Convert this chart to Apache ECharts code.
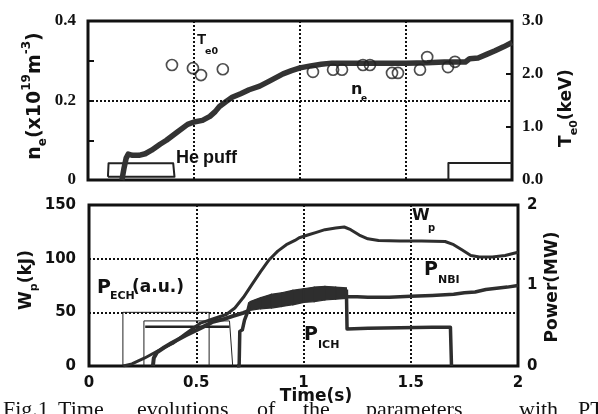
<!DOCTYPE html>
<html><head><meta charset="utf-8">
<script src="https://cdn.jsdelivr.net/npm/echarts@6/dist/echarts.min.js"></script>
<style>html,body{margin:0;padding:0;background:#fff}#c{width:598px;height:414px}</style>
</head><body><div id="c"></div>
<script>
// ---------- data ----------
// top panel: electron density n_e (x10^19 m^-3) vs time (s)
const neTrace = [[0.16,0],[0.17,0.03],[0.18,0.055],[0.19,0.065],[0.21,0.062],[0.24,0.062],[0.27,0.066],[0.30,0.075],[0.34,0.09],[0.37,0.10],[0.42,0.12],[0.47,0.14],[0.50,0.146],[0.54,0.15],[0.575,0.16],[0.60,0.172],[0.62,0.185],[0.65,0.197],[0.68,0.208],[0.72,0.217],[0.76,0.227],[0.81,0.236],[0.86,0.25],[0.92,0.267],[0.96,0.275],[1.00,0.282],[1.05,0.287],[1.10,0.291],[1.15,0.294],[1.30,0.294],[1.50,0.294],[1.60,0.295],[1.68,0.297],[1.78,0.297],[1.80,0.305],[1.84,0.307],[1.88,0.316],[1.92,0.325],[1.96,0.335],[2.00,0.346]];
// He puff waveforms (drawn in n_e units)
const hePuff1 = [[0.094,0.008],[0.097,0.042],[0.402,0.042],[0.408,0.008],[0.094,0.008]];
const hePuff2 = [[1.70,0],[1.70,0.043],[2.00,0.043]];
// central electron temperature T_e0 (keV)
const te0Points = [[0.396,2.17],[0.495,2.11],[0.533,1.98],[0.636,2.09],[1.061,2.04],[1.156,2.08],[1.198,2.08],[1.297,2.17],[1.33,2.17],[1.434,2.02],[1.462,2.02],[1.566,2.08],[1.60,2.32],[1.698,2.13],[1.731,2.23]];

// bottom panel: stored energy W_p (kJ)
const wpTrace = [[0.16,0],[0.20,2],[0.26,7.5],[0.32,14],[0.39,21],[0.45,30],[0.52,40],[0.58,44],[0.64,48],[0.68,54],[0.72,64],[0.76,76],[0.80,88],[0.84,99],[0.88,107],[0.92,113],[0.96,117],[0.98,119.5],[1.02,122],[1.06,124.5],[1.10,127],[1.15,128.5],[1.19,129.5],[1.22,127],[1.26,122],[1.30,118.5],[1.35,117],[1.45,116.5],[1.55,116.5],[1.66,116],[1.70,113],[1.74,108],[1.78,103],[1.82,101.5],[1.88,101.5],[1.94,103],[2.00,106]];
// ECH power waveforms (a.u., drawn in kJ units)
const echBox1 = [[0.158,0],[0.158,50],[0.56,50],[0.56,0]];
const echBox2 = [[0.256,0],[0.256,42],[0.655,42],[0.67,0]];
const echLevel = [[0.262,36.5],[0.655,36.5]];
// NBI power (MW)
const nbiRise = [[0.298,0],[0.302,0.10],[0.317,0.17],[0.35,0.23],[0.387,0.29],[0.45,0.38],[0.527,0.48],[0.578,0.55],[0.625,0.58],[0.67,0.62],[0.72,0.66],[0.75,0.69]];
const bandTime = [0.75,0.80,0.85,0.90,0.95,1.00,1.05,1.10,1.15,1.20];
const bandLow  = [0.69,0.71,0.72,0.74,0.76,0.79,0.80,0.82,0.83,0.84];
const bandHigh = [0.80,0.85,0.89,0.91,0.94,0.96,0.98,0.99,0.98,0.97];
const nbiLate = [[1.20,0.86],[1.25,0.86],[1.30,0.855],[1.40,0.855],[1.50,0.865],[1.60,0.875],[1.70,0.89],[1.75,0.91],[1.80,0.92],[1.85,0.95],[1.90,0.965],[1.95,0.98],[2.00,1.00]];
// ICH power (MW)
const ichRise = [[0.69,0],[0.70,0],[0.703,0.43],[0.715,0.45],[0.725,0.57],[0.738,0.66],[0.75,0.79]];
const ichFlat = [[1.20,0.95],[1.203,0.46],[1.30,0.47],[1.45,0.475],[1.60,0.48],[1.685,0.48],[1.69,0]];

// axis ticks
const timeTicks = [0, 0.5, 1, 1.5, 2];
const neTicks = [0, 0.2, 0.4];
const neGrid = [0.2];
const teTicks = [0, 1, 2, 3];
const wpTicks = [0, 50, 100, 150];
const powTicks = [0, 1, 2];

// ---------- chart ----------
const INK = '#222';
const LINE = '#2e2e2e';
const dotted = {color: '#111', width: 2, type: [2, 2]};
const serifB = {fontFamily: 'Liberation Serif', fontWeight: 'bold', fontSize: 17, color: '#111'};
const sansB = {fontFamily: 'DejaVu Sans', fontWeight: 'bold', fontSize: 15, color: '#111'};

function line(data, xi, yi, width, color, z) {
  return {type: 'line', data: data, xAxisIndex: xi, yAxisIndex: yi, showSymbol: false, symbol: 'none',
    lineStyle: {width: width, color: color || LINE, join: 'round'}, z: z || 3, silent: true, animation: false};
}

const neSeries = line(neTrace, 0, 0, 5.5, '#333');
neSeries.markLine = {silent: true, symbol: 'none', label: {show: false}, animation: false,
  lineStyle: dotted, data: neGrid.map(v => ({yAxis: v}))};

const bandSeries = {
  type: 'custom', xAxisIndex: 1, yAxisIndex: 3, silent: true, animation: false, z: 3,
  data: bandTime.map((t, i) => [t, bandLow[i], bandHigh[i]]),
  encode: {x: 0, y: [1, 2]},
  renderItem: function (params, api) {
    const i = params.dataIndex;
    if (i >= bandTime.length - 1) return null;
    const pts = [
      api.coord([bandTime[i], bandLow[i]]),
      api.coord([bandTime[i + 1], bandLow[i + 1]]),
      api.coord([bandTime[i + 1], bandHigh[i + 1]]),
      api.coord([bandTime[i], bandHigh[i]])
    ];
    return {type: 'polygon', shape: {points: pts},
      style: {fill: LINE, stroke: LINE, lineWidth: 1.2}};
  }
};

const series = [
  line(hePuff1, 0, 0, 2, INK),
  line(hePuff2, 0, 0, 2, INK),
  neSeries,
  {type: 'scatter', data: te0Points, xAxisIndex: 0, yAxisIndex: 1, symbol: 'circle', symbolSize: 11,
    itemStyle: {color: 'rgba(0,0,0,0)', borderColor: '#222', borderWidth: 1.7}, z: 5, silent: true, animation: false},

  line(echBox1, 1, 2, 1, INK),
  line(echBox2, 1, 2, 1, INK),
  line(echLevel, 1, 2, 2.5, INK),
  line(wpTrace, 1, 2, 3, LINE),
  line(nbiRise, 1, 3, 4, LINE),
  bandSeries,
  line(nbiLate, 1, 3, 3.5, LINE),
  line(ichRise, 1, 3, 3.5, LINE),
  line(ichFlat, 1, 3, 3.5, LINE)
];

const chart = echarts.init(document.getElementById('c'), null, {renderer: 'canvas'});

function txt(x, y, s, size, extra) {
  return {type: 'text', x: x, y: y, silent: true, z: 10,
    style: Object.assign({text: s, fontFamily: 'DejaVu Sans', fontWeight: 'bold', fontSize: size, fill: '#111',
      align: 'left', verticalAlign: 'middle'}, extra || {})};
}
function rot(x, y, rich, text) {
  return {type: 'text', x: x, y: y, rotation: Math.PI / 2, silent: true, z: 10,
    style: {text: text, rich: rich, align: 'center', verticalAlign: 'middle', fill: '#111'}};
}
const F = 'DejaVu Sans';
const richTop = {
  m: {fontFamily: F, fontWeight: 'bold', fontSize: 19, lineHeight: 28, verticalAlign: 'middle', fill: '#111'},
  s: {fontFamily: F, fontWeight: 'bold', fontSize: 12, lineHeight: 28, verticalAlign: 'bottom', fill: '#111'},
  p: {fontFamily: F, fontWeight: 'bold', fontSize: 12, lineHeight: 28, verticalAlign: 'top', fill: '#111'}
};
const richT = {
  m: {fontFamily: F, fontWeight: 'bold', fontSize: 17, lineHeight: 26, verticalAlign: 'middle', fill: '#111'},
  s: {fontFamily: F, fontWeight: 'bold', fontSize: 11, lineHeight: 26, verticalAlign: 'bottom', fill: '#111'}
};
const cap = {fontFamily: 'Liberation Serif', fontWeight: 'normal', verticalAlign: 'top'};

const graphic = [
  rot(35, 96, richTop, '{m|n}{s|e}{m|(x10}{p|19}{m|m}{p|-3}{m|)}'),
  rot(567, 108, richT, '{m|T}{s|e0}{m|(keV)}'),
  rot(27, 280, richT, '{m|W}{s|p}{m|(kJ)}'),
  rot(553, 287, richT, '{m|Power(MW)}'),
  txt(316, 397, 'Time(s)', 17, {align: 'center'}),
  // top panel annotations
  txt(197, 40, 'T', 15, {fontFamily: 'Liberation Sans'}),
  txt(205, 52, 'e0', 9.5),
  txt(351, 90, 'n', 16),
  txt(361, 99, 'e', 9),
  txt(176, 158, 'He', 18, {fontFamily: 'Liberation Sans'}),
  txt(203, 158, 'puff', 18, {fontFamily: 'Liberation Sans'}),
  // bottom panel annotations
  txt(412, 216, 'W', 16),
  txt(428, 228, 'p', 10),
  txt(424, 270, 'P', 19),
  txt(438, 280, 'NBI', 11),
  txt(304, 335, 'P', 19),
  txt(318, 345, 'ICH', 11),
  txt(97, 288, 'P', 19),
  txt(110, 296, 'ECH', 11),
  txt(132, 288, '(a.u.)', 17),
  // caption (cut by the picture edge)
  txt(3, 399, 'Fig.1', 22, cap),
  txt(58, 399, 'Time', 22, cap),
  txt(137, 399, 'evolutions', 22, cap),
  txt(257, 399, 'of', 22, cap),
  txt(303, 399, 'the', 22, cap),
  txt(366, 399, 'parameters', 22, cap),
  txt(519, 399, 'with', 22, cap),
  txt(578, 399, 'PT', 22, cap)
];

function fmtFrom(list, digits) {
  return function (v) {
    const hit = list.some(t => Math.abs(t - v) < 1e-6);
    return hit ? (digits == null ? String(+v.toFixed(3)) : v.toFixed(digits)) : '';
  };
}

chart.setOption({
  animation: false,
  backgroundColor: '#fff',
  grid: [
    {left: 88, top: 21, width: 424, height: 159, show: true, borderColor: '#111', borderWidth: 3, backgroundColor: 'transparent'},
    {left: 89, top: 205, width: 429, height: 161, show: true, borderColor: '#111', borderWidth: 3, backgroundColor: 'transparent'}
  ],
  xAxis: [
    {type: 'value', gridIndex: 0, min: 0, max: 2, interval: 0.5, axisLine: {show: false}, axisTick: {show: false},
      axisLabel: {show: false}, splitLine: {show: true, lineStyle: dotted}},
    {type: 'value', gridIndex: 1, min: 0, max: 2, interval: 0.5, axisLine: {show: false}, axisTick: {show: false},
      axisLabel: Object.assign({margin: 10, formatter: fmtFrom(timeTicks)}, sansB),
      splitLine: {show: true, lineStyle: dotted}}
  ],
  yAxis: [
    {type: 'value', gridIndex: 0, min: 0, max: 0.4, interval: 0.1, axisLine: {show: false},
      axisTick: {show: true, inside: true, length: 6, lineStyle: {color: '#111', width: 2}},
      axisLabel: Object.assign({margin: 12, formatter: fmtFrom(neTicks)}, serifB),
      splitLine: {show: false}},
    {type: 'value', gridIndex: 0, position: 'right', min: 0, max: 3, interval: 1, axisLine: {show: false},
      axisTick: {show: true, inside: true, length: 6, lineStyle: {color: '#111', width: 2}},
      axisLabel: Object.assign({margin: 10, formatter: fmtFrom(teTicks, 1)}, serifB),
      splitLine: {show: false}},
    {type: 'value', gridIndex: 1, min: 0, max: 150, interval: 50, axisLine: {show: false}, axisTick: {show: false},
      axisLabel: Object.assign({margin: 13, formatter: fmtFrom(wpTicks)}, sansB),
      splitLine: {show: true, lineStyle: dotted}},
    {type: 'value', gridIndex: 1, position: 'right', min: 0, max: 2, interval: 1, axisLine: {show: false},
      axisTick: {show: false},
      axisLabel: Object.assign({margin: 9, formatter: fmtFrom(powTicks)}, sansB),
      splitLine: {show: false}}
  ],
  series: series,
  graphic: graphic
});
</script>
</body></html>
